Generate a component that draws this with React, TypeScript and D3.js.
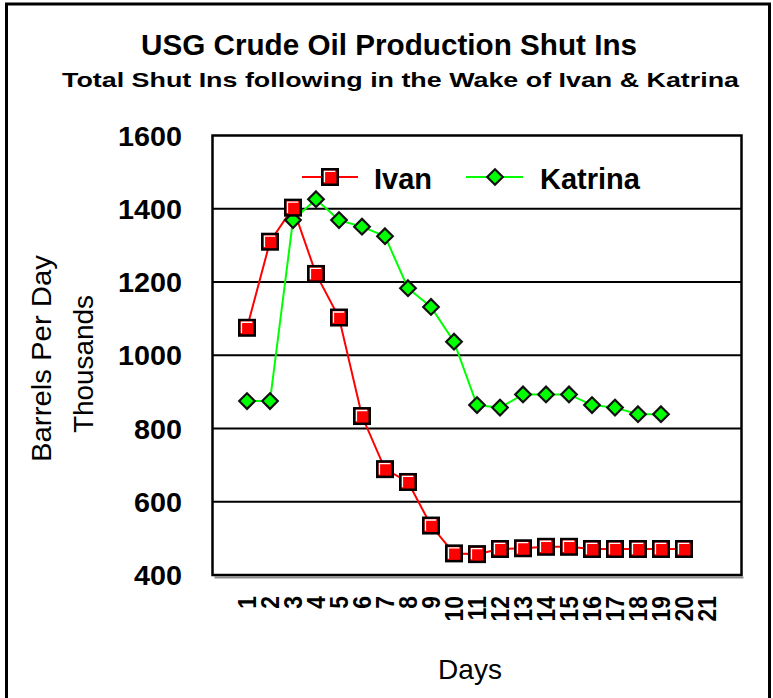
import React from 'react';
import * as d3 from 'd3';

const days = ['1', '2', '3', '4', '5', '6', '7', '8', '9', '10', '11', '12', '13', '14', '15', '16', '17', '18', '19', '20', '21'];
const ivan = [1075, 1310, 1403, 1222, 1103, 834, 689, 654, 535, 459, 457, 471, 473, 477, 477, 471, 471, 471, 471, 471];
const katrina = [875, 875, 1369, 1426, 1369, 1351, 1325, 1183, 1132, 1037, 864, 857, 893, 893, 893, 864, 857, 839, 839];
const yTicks = [400, 600, 800, 1000, 1200, 1400, 1600];

const W = 773;
const H = 698;
const FONT = 'Liberation Sans, Arial, sans-serif';

const plot = { left: 212.5, right: 741.5, top: 135.5, bottom: 575 };

const x = d3.scaleBand<string>()
    .domain(days)
    .range([plot.left, plot.right])
    .paddingInner(0)
    .paddingOuter(1);

const y = d3.scaleLinear()
    .domain([400, 1600])
    .range([plot.bottom, plot.top]);

const cx = (i: number) => (x(days[i]) as number) + x.bandwidth() / 2;

const Square = ({ px, py }: { px: number; py: number }) => {
    const s = 15.5;
    return (
        <g>
            <rect x={px - s / 2} y={py - s / 2} width={s} height={s} fill="#ff0000" stroke="#000" strokeWidth={2.5} />
            <path d={`M${px - s / 2 + 2.2},${py + s / 2 - 2.5}V${py - s / 2 + 2.2}H${px + s / 2 - 2.5}`}
                fill="none" stroke="#fff" strokeWidth={1.3} />
        </g>
    );
};

const Diamond = ({ px, py }: { px: number; py: number }) => {
    const r = 7.8;
    return (
        <path d={`M${px},${py - r}L${px + r},${py}L${px},${py + r}L${px - r},${py}Z`}
            fill="#00ff00" stroke="#111" strokeWidth={2.2} strokeLinejoin="miter" />
    );
};

const App = () => {
    const lineGen = d3.line<number>()
        .x((_, i) => cx(i))
        .y(d => y(d));

    return (
        <svg width={W} height={H} style={{ position: 'absolute', left: 0, top: 0, background: '#fff' }}
            fontFamily={FONT}>
            {/* outer frame */}
            <rect x={6.5} y={4} width={763} height={740} fill="none" stroke="#000" strokeWidth={3} />

            {/* titles */}
            <text x={141} y={55} fontSize={29} fontWeight="bold" textLength={496} lengthAdjust="spacingAndGlyphs">
                USG Crude Oil Production Shut Ins
            </text>
            <text x={62} y={87} fontSize={21} fontWeight="bold" textLength={677} lengthAdjust="spacingAndGlyphs">
                Total Shut Ins following in the Wake of Ivan &amp; Katrina
            </text>

            {/* gridlines */}
            {yTicks.filter(t => t > 400 && t < 1600).map(t => (
                <line key={t} x1={plot.left} x2={plot.right} y1={y(t)} y2={y(t)} stroke="#000" strokeWidth={2} />
            ))}

            {/* plot frame + shadow */}
            <line x1={plot.left + 2} x2={plot.right + 2} y1={plot.bottom + 2.5} y2={plot.bottom + 2.5}
                stroke="#8c8c8c" strokeWidth={2} />
            <rect x={plot.left} y={plot.top} width={plot.right - plot.left} height={plot.bottom - plot.top}
                fill="none" stroke="#000" strokeWidth={2.5} />

            {/* y tick labels */}
            {yTicks.map(t => (
                <text key={t} x={182} y={y(t)} dy="0.36em" textAnchor="end" fontSize={28} fontWeight="bold"
                    textLength={String(t).length * 16} lengthAdjust="spacingAndGlyphs">
                    {t}
                </text>
            ))}

            {/* y axis titles */}
            <text transform="translate(51,358.5) rotate(-90)" textAnchor="middle" fontSize={27}
                textLength={207} lengthAdjust="spacingAndGlyphs">Barrels Per Day</text>
            <text transform="translate(93,364) rotate(-90)" textAnchor="middle" fontSize={27}
                textLength={138} lengthAdjust="spacingAndGlyphs">Thousands</text>

            {/* x tick labels */}
            {days.map((d, i) => (
                <text key={d} transform={`translate(${cx(i)},596) rotate(-90) scale(0.88,1)`} dy="0.36em"
                    textAnchor="end" fontSize={26} fontWeight="bold">{d}</text>
            ))}

            {/* x axis title */}
            <text x={470} y={679} textAnchor="middle" fontSize={28}>Days</text>

            {/* series */}
            <path d={lineGen(katrina) || ''} fill="none" stroke="#00ff00" strokeWidth={2} />
            <path d={lineGen(ivan) || ''} fill="none" stroke="#ff0000" strokeWidth={2} />
            {katrina.map((v, i) => <Diamond key={`k${i}`} px={cx(i)} py={y(v)} />)}
            {ivan.map((v, i) => <Square key={`i${i}`} px={cx(i)} py={y(v)} />)}

            {/* legend */}
            <line x1={302} x2={358} y1={177} y2={177} stroke="#ff0000" strokeWidth={2} />
            <Square px={330} py={177} />
            <text x={374} y={189} fontSize={29} fontWeight="bold">Ivan</text>
            <line x1={466} x2={523} y1={177} y2={177} stroke="#00ff00" strokeWidth={2} />
            <Diamond px={495} py={177} />
            <text x={540} y={189} fontSize={29} fontWeight="bold">Katrina</text>
        </svg>
    );
};

export default App;
